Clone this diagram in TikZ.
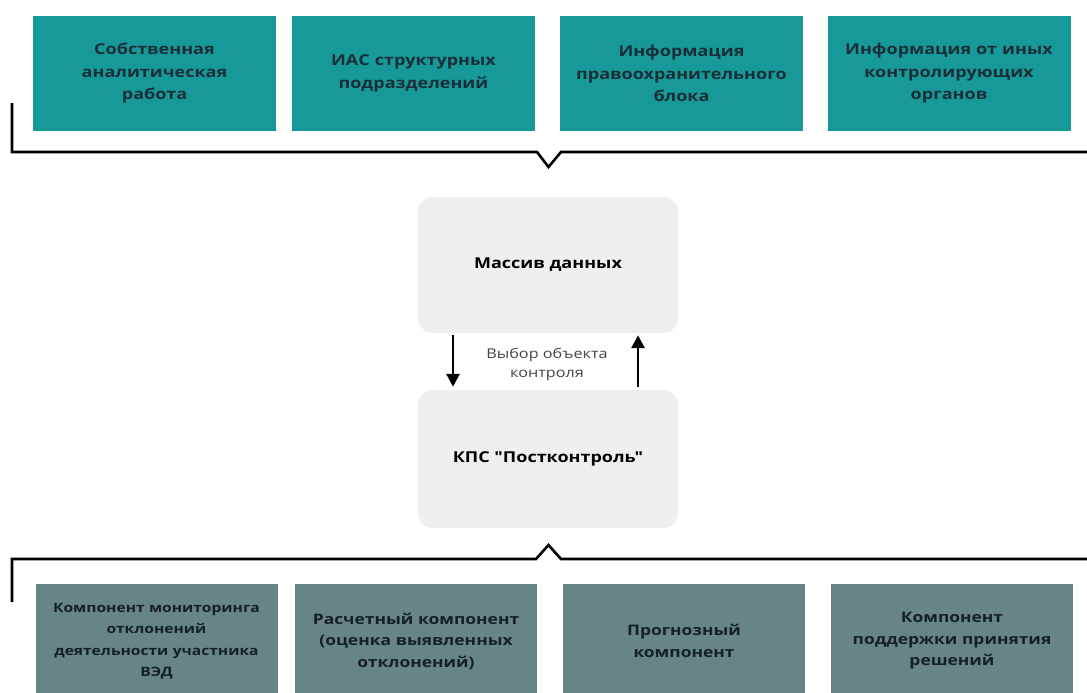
\documentclass[tikz,border=0pt]{standalone}
\usepackage{fontspec}
\setmainfont{Open Sans}[FakeStretch=1.2, Ligatures=TeXOff]
\usetikzlibrary{arrows.meta}
\definecolor{topteal}{RGB}{22,153,152}
\definecolor{toptext}{RGB}{26,46,56}
\definecolor{botgray}{RGB}{102,133,132}
\definecolor{bottext}{RGB}{22,32,34}
\definecolor{midgray}{RGB}{237,239,240}
\definecolor{labgray}{RGB}{70,70,70}
\tikzset{
  topbox/.style={fill=topteal, minimum width=243pt, minimum height=115pt, inner sep=0pt,
    text width=236pt, align=center, text=toptext, font=\bfseries\fontsize{15}{22.5}\selectfont},
  botbox/.style={fill=botgray, minimum width=242pt, minimum height=115pt, inner sep=0pt,
    text width=236pt, align=center, text=bottext, font=\bfseries\fontsize{14.5}{21.5}\selectfont},
  midbox/.style={fill=midgray, rounded corners=15pt, minimum width=260pt, inner sep=0pt,
    align=center, text=black, font=\bfseries\fontsize{15}{22}\selectfont},
  bracket/.style={line width=2.6pt, black, line join=miter},
  arr/.style={line width=2.8pt, -{Triangle[length=13pt,width=13pt]}},
  lab/.style={align=center, text=labgray, font=\fontsize{13.5}{19}\selectfont}
}
\begin{document}
\begin{tikzpicture}[x=1pt,y=-1pt]
\useasboundingbox[fill=white] (0,0) rectangle (1087,693);
% top sources
\node[topbox] (s1) at (154.5,73.5) {Собственная\\аналитическая\\работа};
\node[topbox] (s2) at (413.5,73.5) {ИАС структурных\\подразделений};
\node[topbox] (s3) at (681.5,73.5) {Информация\\правоохранительного\\блока};
\node[topbox] (s4) at (949,73.5) {Информация от иных\\контролирующих\\органов};
% top bracket
\draw[bracket] (12,103) -- (12,152) -- (537,152) -- (548.5,167) -- (561,152) -- (1087,152);
% middle
\node[midbox, minimum height=136pt] (m) at (548,265) {Массив данных};
\node[midbox, minimum height=138pt] (k) at (548,459) {КПС "Постконтроль"};
\draw[arr] ([xshift=-95pt,yshift=-2pt]m.south) -- ([xshift=-95pt,yshift=3pt]k.north);
\draw[arr] ([xshift=90pt,yshift=3pt]k.north) -- ([xshift=90pt,yshift=-2pt]m.south);
\node[lab] (l) at (547,364) {Выбор объекта\\контроля};
% bottom bracket
\draw[bracket] (12,602) -- (12,559) -- (536,559) -- (548.5,545) -- (561,559) -- (1087,559);
% bottom components
\node[botbox, font=\bfseries\fontsize{13}{21.5}\selectfont] (c1) at (156.5,641) {Компонент мониторинга\\отклонений\\деятельности участника\\ВЭД};
\node[botbox] (c2) at (416,641) {Расчетный компонент\\(оценка выявленных\\отклонений)};
\node[botbox] (c3) at (684,641) {Прогнозный\\компонент};
\node[botbox] (c4) at (952,641) {Компонент\\поддержки принятия\\решений};
\end{tikzpicture}
\end{document}
